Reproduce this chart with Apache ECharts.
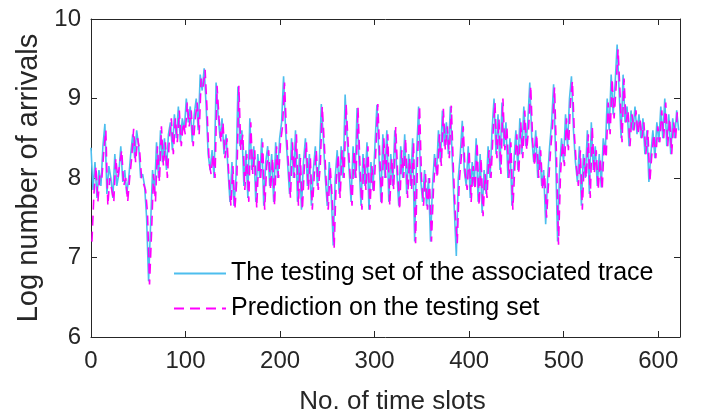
<!DOCTYPE html>
<html>
<head>
<meta charset="utf-8">
<script src="https://cdn.jsdelivr.net/npm/echarts@6/dist/echarts.min.js"></script>
<style>html,body{margin:0;padding:0;background:#fff}#c{width:707px;height:420px}</style>
</head>
<body>
<div id="c"></div>
<script>
// Values, one reading about every 2.1 time slots
const SLOT_STEP = 2.1;
// Testing set of the associated trace
const testingSet = [
8.38,7.85,8.2,7.75,8.1,7.9,8.4,8.68,7.8,8.15,
8.0,7.75,8.3,7.9,8.05,8.4,7.95,8.1,7.8,8.0,
8.3,8.55,8.25,8.6,8.4,8.0,8.05,7.9,7.5,6.7,
7.4,8.1,7.8,8.45,8.0,8.6,8.2,8.5,8.1,8.55,
8.7,8.35,8.8,8.5,8.9,8.45,8.75,8.6,9.0,8.7,
8.9,8.45,8.8,9.0,8.6,9.3,9.1,9.38,8.9,8.3,
8.1,8.35,8.0,9.2,8.8,8.5,8.75,8.3,8.55,8.1,
7.7,8.2,7.65,8.0,9.15,8.4,8.6,7.9,8.35,7.75,
8.75,8.1,8.4,7.7,8.3,8.0,8.5,7.65,8.2,8.4,
7.9,8.3,7.7,8.45,8.0,8.5,8.7,9.28,8.6,8.2,
7.8,8.5,8.0,8.6,7.7,8.3,7.6,8.2,8.5,7.9,
8.3,7.65,8.1,8.4,7.9,8.2,8.93,8.5,8.0,7.65,
8.2,7.8,7.15,8.0,8.35,7.8,8.4,8.0,9.05,8.5,
8.1,7.7,8.4,8.0,8.88,8.2,7.65,8.3,7.9,8.45,
7.6,8.2,7.85,8.4,8.92,8.3,7.7,8.55,8.0,8.6,
7.7,8.3,7.9,8.6,8.1,7.65,8.4,8.0,8.55,7.8,
8.3,7.9,8.5,7.2,8.3,8.9,8.0,7.7,8.1,7.65,
8.0,7.2,7.9,8.3,8.05,8.6,8.2,8.85,8.4,8.7,
8.3,8.9,8.2,7.6,7.02,8.0,8.3,8.72,8.1,7.9,
8.4,7.75,8.2,7.9,8.5,7.7,8.3,7.56,8.1,7.8,
8.4,8.0,8.6,9.0,8.3,8.8,8.1,8.95,8.4,8.7,
8.0,8.5,7.65,8.2,8.6,8.1,8.75,8.3,8.9,8.4,
8.7,9.2,8.5,8.2,8.6,8.0,8.4,7.9,8.1,7.42,
8.0,8.4,8.7,9.18,8.3,7.2,8.1,8.5,8.2,8.8,
8.4,9.0,9.28,8.6,8.2,7.95,8.4,7.65,8.3,8.0,
8.6,7.8,8.7,8.1,8.4,7.9,8.3,7.88,8.5,8.3,
9.0,8.6,9.3,8.8,9.2,9.68,9.1,8.5,9.3,8.7,
8.9,8.4,8.85,8.6,8.9,8.55,8.8,8.5,8.75,8.3,
8.6,7.95,8.3,8.6,8.25,8.7,8.45,8.9,8.5,9.0,
8.4,8.8,8.3,8.75,8.5,8.85,8.6
];
// Prediction on the testing set (one slot behind each testing reading)
const prediction = [
7.2,7.8,8.15,7.7,8.05,8.0,8.35,8.6,7.65,8.0,
8.0,7.7,8.25,8.0,8.0,8.35,7.9,8.0,7.7,8.0,
8.25,8.62,8.2,8.5,8.35,8.0,8.0,7.85,7.55,6.66,
7.3,8.05,7.7,8.4,7.95,8.65,8.15,8.45,8.0,8.5,
8.75,8.3,8.75,8.45,8.85,8.4,8.7,8.55,8.95,8.65,
8.85,8.4,8.75,8.95,8.55,9.25,9.15,9.36,8.85,8.2,
8.05,8.3,8.0,9.16,8.75,8.45,8.7,8.25,8.5,8.0,
7.65,8.15,7.6,8.0,9.16,8.35,8.55,7.85,8.3,7.7,
8.7,8.05,8.35,7.62,8.25,8.0,8.45,7.6,8.15,8.35,
7.85,8.25,7.65,8.4,8.0,8.45,8.65,9.2,8.55,8.15,
7.75,8.45,8.0,8.55,7.65,8.25,7.6,8.15,8.45,7.85,
8.25,7.6,8.05,8.35,7.85,8.15,8.9,8.45,7.95,7.6,
8.15,7.75,7.12,7.95,8.3,7.75,8.35,8.0,8.93,8.45,
8.05,7.65,8.35,8.0,8.89,8.15,7.6,8.25,7.85,8.4,
7.6,8.15,7.8,8.35,8.93,8.25,7.65,8.5,8.0,8.55,
7.65,8.25,7.85,8.64,8.05,7.6,8.35,8.0,8.5,7.75,
8.25,7.85,8.45,7.18,8.25,8.91,8.0,7.65,8.05,7.6,
8.0,7.2,7.85,8.25,8.0,8.55,8.15,8.87,8.35,8.65,
8.25,8.91,8.15,7.55,7.18,7.95,8.25,8.65,8.05,7.85,
8.35,7.7,8.15,7.85,8.45,7.65,8.25,7.52,8.05,7.75,
8.35,8.0,8.55,8.95,8.25,8.75,8.05,9.0,8.35,8.65,
8.0,8.45,7.6,8.15,8.55,8.05,8.7,8.25,8.85,8.35,
8.65,9.16,8.45,8.15,8.55,8.0,8.35,7.85,8.05,7.5,
7.95,8.35,8.65,9.14,8.25,7.16,8.05,8.45,8.15,8.75,
8.35,8.95,9.22,8.55,8.15,7.9,8.35,7.6,8.25,8.0,
8.55,7.75,8.65,8.05,8.35,7.85,8.25,7.85,8.45,8.25,
8.95,8.55,9.25,8.75,9.15,9.62,9.05,8.45,9.25,8.7,
8.85,8.4,8.8,8.6,8.85,8.55,8.75,8.5,8.7,8.3,
8.6,7.95,8.3,8.55,8.25,8.65,8.45,8.85,8.5,8.95,
8.4,8.75,8.3,8.7,8.5,8.9
];
const seriesNames = ['The testing set of the associated trace', 'Prediction on the testing set'];
const xTicks = [0, 100, 200, 300, 400, 500, 600];
const yTicks = [6, 7, 8, 9, 10];
const X_MAX = 623;

const testingData = testingSet.map((v, i) => [i * SLOT_STEP, v]);
const predictionData = prediction.map((v, i) => [i * SLOT_STEP + 1, v]);

const FONT = "'Liberation Sans', Arial, Helvetica, sans-serif";
const AX = '#262626';
const chart = echarts.init(document.getElementById('c'), null, {renderer: 'canvas'});
const xBase = {
  type: 'value', min: xTicks[0], max: X_MAX, interval: 100,
  splitLine: {show: false},
  axisLine: {show: true, onZero: false, lineStyle: {color: AX, width: 1}},
  axisTick: {show: true, inside: true, length: 6, lineStyle: {color: AX}}
};
const yBase = {
  type: 'value', min: yTicks[0], max: yTicks[yTicks.length - 1], interval: 1,
  splitLine: {show: false},
  axisLine: {show: true, onZero: false, lineStyle: {color: AX, width: 1}},
  axisTick: {show: true, inside: true, length: 6, lineStyle: {color: AX}}
};
chart.setOption({
  animation: false,
  backgroundColor: '#fff',
  textStyle: {fontFamily: FONT},
  grid: {left: 91, right: 27, top: 19, bottom: 80, containLabel: false},
  legend: {
    orient: 'vertical', left: 168, top: 256,
    itemWidth: 52, itemHeight: 25, itemGap: 10,
    itemStyle: {opacity: 0},
    textStyle: {fontFamily: FONT, fontSize: 25, color: '#000', lineHeight: 25},
    data: seriesNames
  },
  xAxis: [
    Object.assign({}, xBase, {
      position: 'bottom',
      name: 'No. of time slots', nameLocation: 'middle', nameGap: 52,
      nameTextStyle: {fontFamily: FONT, fontSize: 26, color: AX, padding: [0, 0, 0, 14]},
      axisLabel: {fontFamily: FONT, fontSize: 24, color: AX, margin: 12, showMaxLabel: false,
        formatter: v => (xTicks.indexOf(v) >= 0 ? String(v) : '')}
    }),
    Object.assign({}, xBase, {position: 'top', axisLabel: {show: false}})
  ],
  yAxis: [
    Object.assign({}, yBase, {
      position: 'left',
      name: 'Log number of arrivals', nameLocation: 'middle', nameGap: 48,
      nameTextStyle: {fontFamily: FONT, fontSize: 29, color: AX},
      axisLabel: {fontFamily: FONT, fontSize: 24, color: AX, margin: 10}
    }),
    Object.assign({}, yBase, {position: 'right', axisLabel: {show: false}})
  ],
  series: [
    {
      name: seriesNames[0], type: 'line', data: testingData,
      xAxisIndex: 0, yAxisIndex: 0,
      symbol: 'none', smooth: false,
      lineStyle: {color: '#4DBEEE', width: 1.6, type: 'solid'},
      itemStyle: {color: '#4DBEEE'}
    },
    {
      name: seriesNames[1], type: 'line', data: predictionData,
      xAxisIndex: 0, yAxisIndex: 0,
      symbol: 'none', smooth: false,
      lineStyle: {color: '#FF00FF', width: 1.6, type: [10, 6]},
      itemStyle: {color: '#FF00FF'}
    }
  ]
});
</script>
</body>
</html>
